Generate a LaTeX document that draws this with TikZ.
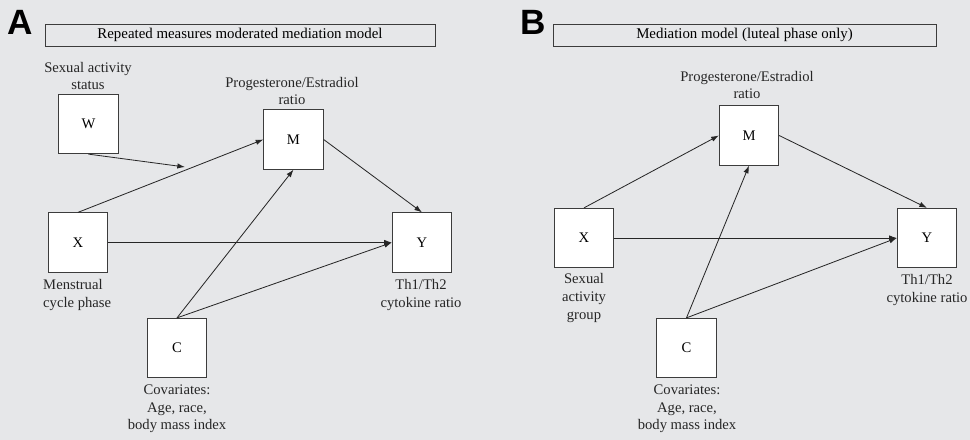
\documentclass[tikz,border=0pt]{standalone}
\usepackage{fontspec}
\setmainfont{Liberation Serif}
\newfontfamily\panelfont{Liberation Sans}
\usepackage{tikz}
\usetikzlibrary{arrows.meta,positioning,calc}
\definecolor{figbg}{RGB}{230,231,233}
\definecolor{boxline}{RGB}{60,60,60}
\tikzset{
  varbox/.style={draw=boxline, fill=white, line width=0.8pt,
                 minimum size=1.78cm, inner sep=0pt, font=\fontsize{12.5}{15}\selectfont},
  ttlbox/.style={draw=boxline, line width=0.8pt,
                 minimum height=0.66cm, inner sep=0pt, font=\fontsize{12.7}{15}\selectfont},
  vlab/.style={align=center, inner sep=0pt, text=black!85, font=\fontsize{12.5}{15}\selectfont},
  panlet/.style={font=\panelfont\bfseries\fontsize{30}{30}\selectfont, inner sep=0pt},
  arr/.style={-{Latex[length=2.3mm,width=1.6mm]}, line width=0.7pt, black!85},
}

\begin{document}
\begin{tikzpicture}
    \fill[figbg] (0,0) rectangle (29.1,-13.2);
    \useasboundingbox (0,0) rectangle (29.1,-13.2);
    % panel A
    \begin{scope}
      \node[panlet] (letA) at (0.615,-0.675) {A};
      \node[ttlbox, minimum width=11.7cm] (ttlA) at (7.2,-1.05) {Repeated measures moderated mediation model};
      \node[varbox] (wA) at (2.655,-3.72) {W};
      \node[varbox] (mA) at (8.805,-4.185) {M};
      \node[varbox] (xA) at (2.34,-7.275) {X};
      \node[varbox] (yA) at (12.66,-7.275) {Y};
      \node[varbox] (cA) at (5.31,-10.44) {C};
      \node[vlab] (wAlab) at (2.64,-2.28) {Sexual activity\\status};
      \node[vlab] (mAlab) at (8.76,-2.73) {Progesterone/Estradiol\\ratio};
      \node[vlab, align=left, anchor=west] (xAlab) at (1.29,-8.85) {Menstrual\\cycle phase};
      \node[vlab] (yAlab) at (12.63,-8.85) {Th1/Th2\\cytokine ratio};
      \node[vlab] (cAlab) at (5.31,-12.27) {Covariates:\\Age, race,\\body mass index};
      \coordinate (modA) at (5.55,-5.01);
      \draw[arr] (wA.south) -- (modA);
      \draw[arr] (xA.north) -- (mA.west);
      \draw[arr] (mA.east) -- (yA.north);
      \draw[arr] (xA.east) -- (yA.west);
      \draw[arr] (cA.north) -- (mA.south);
      \draw[arr] (cA.north) -- (yA.west);
    \end{scope}
    % panel B
    \begin{scope}
      \node[panlet] (letB) at (16.005,-0.675) {B};
      \node[ttlbox, minimum width=11.49cm] (ttlB) at (22.335,-1.05) {Mediation model (luteal phase only)};
      \node[varbox] (mB) at (22.47,-4.065) {M};
      \node[varbox] (xB) at (17.52,-7.14) {X};
      \node[varbox] (yB) at (27.81,-7.14) {Y};
      \node[varbox] (cB) at (20.595,-10.44) {C};
      \node[vlab] (mBlab) at (22.41,-2.55) {Progesterone/Estradiol\\ratio};
      \node[vlab] (xBlab) at (17.52,-8.94) {Sexual\\activity\\group};
      \node[vlab] (yBlab) at (27.81,-8.7) {Th1/Th2\\cytokine ratio};
      \node[vlab] (cBlab) at (20.61,-12.27) {Covariates:\\Age, race,\\body mass index};
      \draw[arr] (xB.north) -- (mB.west);
      \draw[arr] (mB.east) -- (yB.north);
      \draw[arr] (xB.east) -- (yB.west);
      \draw[arr] (cB.north) -- (mB.south);
      \draw[arr] (cB.north) -- (yB.west);
    \end{scope}
\end{tikzpicture}
\end{document}
